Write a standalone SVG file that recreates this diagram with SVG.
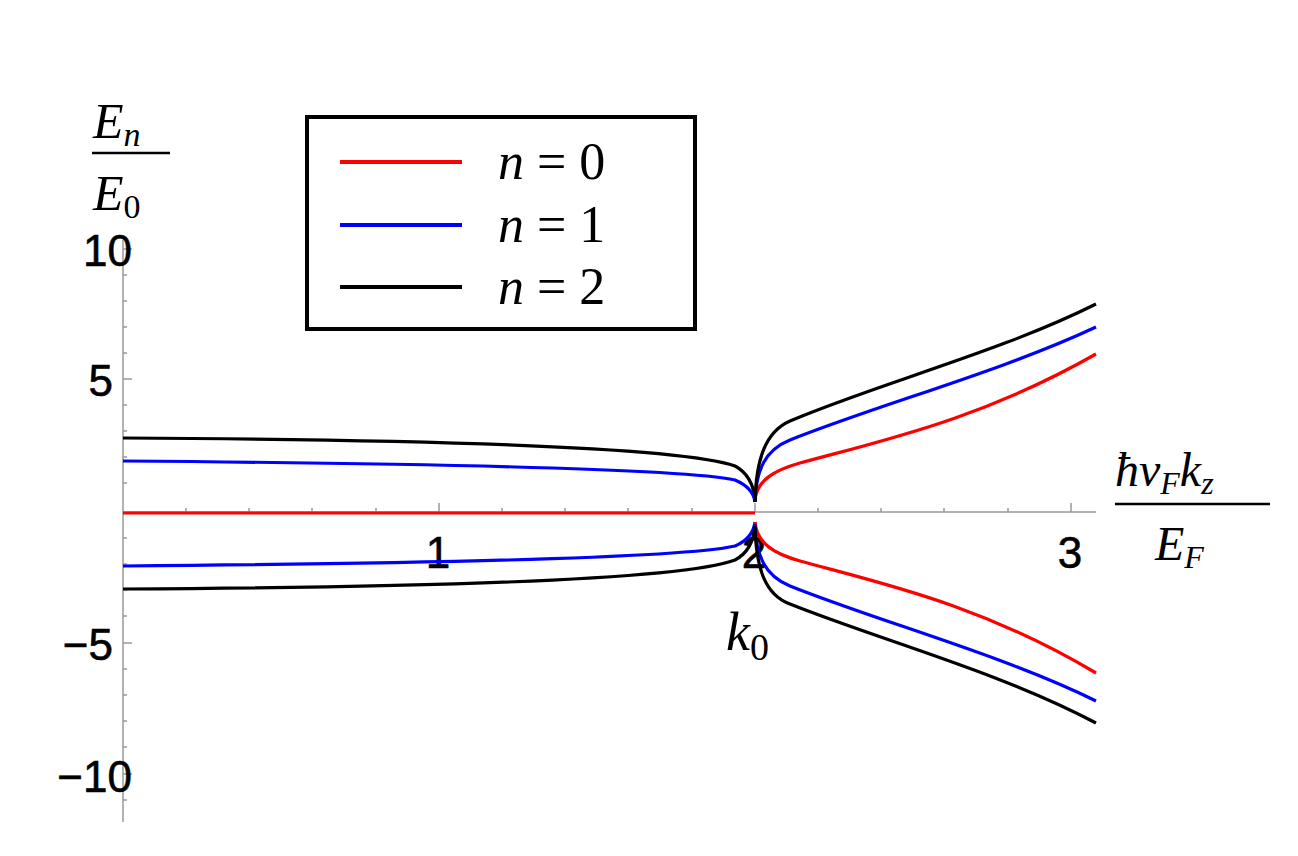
<svg xmlns="http://www.w3.org/2000/svg" width="1298" height="856" viewBox="0 0 1298 856">
<style>
.ax{stroke:#999;stroke-width:1.5;fill:none}
.c{fill:none;stroke-width:3.2}
.r{stroke:#f00}.b{stroke:#00f}.k{stroke:#000}
.tl{font-family:"Liberation Sans",Arial,sans-serif;font-size:44px;fill:#000;stroke:#000;stroke-width:0.6}
.m{font-family:"Liberation Serif","Times New Roman",serif;font-style:italic;fill:#000}
.mu{font-family:"Liberation Serif","Times New Roman",serif;font-style:normal;fill:#000}
</style>
<rect width="1298" height="856" fill="#fff"/>
<g id="axes">
<path class="ax" d="M123,240V822M123,512H1096"/>
<path class="ax" d="M123,249h9M123,379h9M123,643h9M123,774h9M123,275h4M123,301h4M123,327h4M123,353h4M123,405h4M123,431h4M123,457h4M123,483h4M123,538h4M123,564h4M123,590h4M123,616h4M123,669h4M123,695h4M123,721h4M123,747h4M123,800h4"/>
<path class="ax" d="M439,512v-9M755,512v-9M1071,512v-9M186,512v-4M249,512v-4M312,512v-4M376,512v-4M502,512v-4M565,512v-4M628,512v-4M692,512v-4M818,512v-4M881,512v-4M944,512v-4M1008,512v-4"/>
<text class="tl" x="132" y="266" text-anchor="end">10</text>
<text class="tl" x="113" y="396" text-anchor="end">5</text>
<text class="tl" x="113" y="660" text-anchor="end">−5</text>
<text class="tl" x="132" y="792" text-anchor="end">−10</text>
<text class="tl" x="438" y="568" text-anchor="middle">1</text>
<text class="tl" x="754" y="568" text-anchor="middle">2</text>
<text class="tl" x="1070" y="568" text-anchor="middle">3</text>
</g>
<g id="connectors">
<path class="c r" d="M123,513H755"/>
<path class="c k" d="M123,438C500,440 690,450 735,466C750,474 754,488 755,500"/>
<path class="c b" d="M123,461C500,464 690,470 735,480C749,486 754,494 755,502"/>
<path class="c b" d="M123,566C500,563 690,556 735,546C749,540 754,530 755,522"/>
<path class="c k" d="M123,589C500,587 690,577 735,560C750,552 754,538 755,526"/>
<path class="c r" d="M755,500C757,480 775,470 800,463C880,441 980,420 1096,354"/>
<path class="c b" d="M755,502C756,470 765,450 790,440C880,404 1000,372 1096,327"/>
<path class="c k" d="M755,502C756,460 765,432 790,421C880,383 1000,352 1096,304"/>
<path class="c r" d="M755,522C757,544 775,554 800,561C880,583 980,604 1096,673"/>
<path class="c b" d="M755,524C756,556 765,576 790,586C880,622 1000,654 1096,701"/>
<path class="c k" d="M755,526C756,568 765,595 790,604C880,640 1000,672 1096,723"/>
</g>
<g id="legend">
<rect x="307" y="117" width="388" height="212" fill="#fff" stroke="#000" stroke-width="4"/>
<path stroke="#f00" stroke-width="4" d="M340,162H462"/>
<path stroke="#00f" stroke-width="4" d="M340,225H462"/>
<path stroke="#000" stroke-width="4" d="M340,287H462"/>
<text x="498" y="179" font-size="52"><tspan class="m">n</tspan><tspan class="mu"> = 0</tspan></text>
<text x="498" y="242" font-size="52"><tspan class="m">n</tspan><tspan class="mu"> = 1</tspan></text>
<text x="498" y="304" font-size="52"><tspan class="m">n</tspan><tspan class="mu"> = 2</tspan></text>
</g>
<g id="ylabel">
<text class="m" x="93" y="138" font-size="50">E<tspan font-size="34" dy="8">n</tspan></text>
<path stroke="#000" stroke-width="2.5" d="M92,153H170"/>
<text class="m" x="93" y="210" font-size="50">E<tspan class="mu" font-size="34" dy="8">0</tspan></text>
</g>
<g id="xlabel">
<text class="m" x="1115" y="486" font-size="48">ħv<tspan font-size="32" dy="8">F</tspan><tspan dy="-8">k</tspan><tspan font-size="32" dy="8">z</tspan></text>
<path stroke="#000" stroke-width="2.5" d="M1115,504H1270"/>
<text class="m" x="1155" y="560" font-size="48">E<tspan font-size="32" dy="8">F</tspan></text>
</g>
<g id="k0">
<text class="m" x="726" y="650" font-size="54">k<tspan class="mu" font-size="38" dy="10">0</tspan></text>
</g>
</svg>
